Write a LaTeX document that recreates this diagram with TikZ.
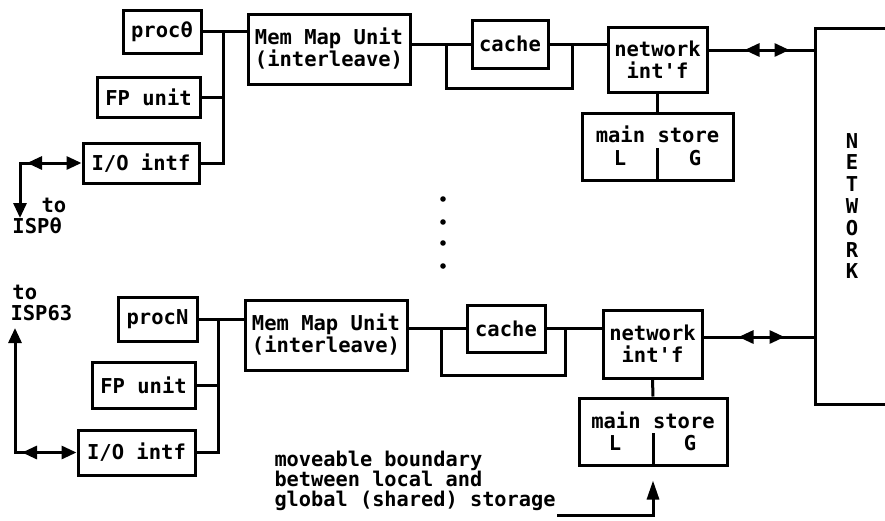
\documentclass[tikz,border=0pt]{standalone}
\usepackage{fontspec}
\setmonofont{DejaVu Sans Mono}
\usetikzlibrary{arrows.meta,decorations.markings,calc}
\newcommand\lptxt{\ttfamily\bfseries\fontsize{20.5}{22}\selectfont}
\newcommand\lpmv{\ttfamily\bfseries\fontsize{20.3}{20}\selectfont}
\newcommand\lpnet{\ttfamily\bfseries\fontsize{20.5}{21.8}\selectfont}
\tikzset{
  box/.style={draw, line width=3pt, inner sep=0pt, font=\lptxt, align=center},
  lbl/.style={inner sep=0pt, font=\lptxt},
  wire/.style={line width=3pt},
  midtips/.style 2 args={postaction={decorate}, decoration={markings,
      mark=at position #1 with {\arrowreversed{>}},
      mark=at position #2 with {\arrow{>}}}},
  backtip/.style={decorate, decoration={markings,
      mark=at position #1 with {\arrowreversed{>}}}},
}
\begin{document}
\begin{tikzpicture}[x=1pt,y=-1pt,line width=3pt,
  >={Triangle[length=15pt,width=13pt]}]
\useasboundingbox (0,0) rectangle (885,520);

% ---------- top processor row ----------
\node[box, minimum width=78pt,  minimum height=43pt] (p1) at (162,31.5) {procθ};
\node[box, minimum width=103pt, minimum height=40pt] (f1) at (148.5,97) {FP unit};
\node[box, minimum width=116pt, minimum height=40pt] (i1) at (141,163) {I/O intf};
\node[box, minimum width=162pt, minimum height=70pt] (m1) at (329,49) {Mem Map Unit\\(interleave)};
\node[box, minimum width=76pt,  minimum height=48pt] (k1) at (510,44) {cache};
\node[box, minimum width=99pt,  minimum height=65pt] (n1) at (657.5,59.5) {network\\int'f};
\node[box, minimum width=151pt, minimum height=67pt] (s1) at (657.5,146.5) {};
\node[lbl, anchor=base] (s1t) at (657.5,142) {main store};
\node[lbl, anchor=base] (s1l) at (620,165) {L};
\node[lbl, anchor=base] (s1g) at (695,165) {G};

\coordinate (bx1) at (223,0);
\coordinate (la1) at (446,0);
\coordinate (lb1) at (572,0);
\coordinate (ly1) at (0,88);
\coordinate (dv1) at (0,148);
\coordinate (t1) at (0,50);
\coordinate (c1) at (20,163);
\coordinate (d1) at (20,218);

\draw[wire] (p1.east) -- (p1.east -| m1.west);
\draw[wire] (i1.east) -- (i1.east -| bx1) -- (p1.east -| bx1);
\draw[wire] (f1.east) -- (f1.east -| bx1);
\draw[wire] (m1.east |- k1.west) -- (k1.west);
\draw[wire] (k1.west -| la1) -- (la1 |- ly1) -- (lb1 |- ly1) -- (lb1 |- k1.east);
\draw[wire] (k1.east) -- (k1.east -| n1.west);
\draw[wire] (n1.south) -- (s1.north);
\draw[wire] (s1.south) -- (s1.south |- dv1);

\draw[wire,<->] (i1.west) -- (c1) -- (d1);
\path[backtip=7pt] (c1) -- (i1.west);
\node[lbl, anchor=base west] (to1) at (40,212) {to};
\node[lbl, anchor=base west] (isp1) at (11,233) {ISPθ};

% ---------- network ----------
\node[minimum width=83pt, minimum height=373pt, inner sep=0pt] (net) at (858.5,216.5) {};
\draw[wire] (net.north east) -- (net.north west) -- (net.south west) -- (net.south east);
\node[lbl, font=\lpnet, align=center] (netw) at (852,206) {N\\E\\T\\W\\O\\R\\K};
\draw[wire, midtips={36pt}{81pt}] (n1.east |- t1) -- (net.west |- t1);

% ---------- dots ----------
\fill (443,199) circle (2.8);
\fill (443,222) circle (2.8);
\fill (443,243) circle (2.8);
\fill (443,266) circle (2.8);

% ---------- bottom processor row ----------
\node[box, minimum width=79pt,  minimum height=44pt] (p2) at (157.5,319) {procN};
\node[box, minimum width=103pt, minimum height=46pt] (f2) at (143.5,385) {FP unit};
\node[box, minimum width=117pt, minimum height=45pt] (i2) at (136.5,452.5) {I/O intf};
\node[box, minimum width=162pt, minimum height=70pt] (m2) at (326,335) {Mem Map Unit\\(interleave)};
\node[box, minimum width=78pt,  minimum height=47pt] (k2) at (506,328.5) {cache};
\node[box, minimum width=99pt,  minimum height=68pt] (n2) at (652.5,344) {network\\int'f};
\node[box, minimum width=148pt, minimum height=67pt] (s2) at (653,431.5) {};
\node[lbl, anchor=base] (s2t) at (653,428) {main store};
\node[lbl, anchor=base] (s2l) at (615,450) {L};
\node[lbl, anchor=base] (s2g) at (690,450) {G};

\coordinate (bx2) at (218,0);
\coordinate (la2) at (441,0);
\coordinate (lb2) at (565,0);
\coordinate (ly2) at (0,375);
\coordinate (dv2) at (0,433);
\coordinate (t2) at (0,337);
\coordinate (c2) at (15,452.5);
\coordinate (d2) at (15,328);

\draw[wire] (p2.east) -- (p2.east -| m2.west);
\draw[wire] (i2.east) -- (i2.east -| bx2) -- (p2.east -| bx2);
\draw[wire] (f2.east) -- (f2.east -| bx2);
\draw[wire] (m2.east |- k2.west) -- (k2.west);
\draw[wire] (k2.west -| la2) -- (la2 |- ly2) -- (lb2 |- ly2) -- (lb2 |- k2.east);
\draw[wire] (k2.east) -- (k2.east -| n2.west);
\draw[wire] (n2.south) -- (s2.north);
\draw[wire] (s2.south) -- (s2.south |- dv2);
\draw[wire, midtips={35pt}{81pt}] (n2.east |- t2) -- (net.west |- t2);

\draw[wire,<->] (i2.west) -- (c2) -- (d2);
\path[backtip=7pt] (c2) -- (i2.west);
\node[lbl, anchor=base west] (to2) at (11,299) {to};
\node[lbl, anchor=base west] (isp2) at (9,320) {ISP63};

% ---------- moveable boundary note ----------
\node[lbl, font=\lpmv, anchor=north west, align=left] (mv) at (273,449.5)
  {moveable boundary\\between local and\\global (shared) storage};
\coordinate (sa) at (557,515);
\draw[wire, -{Triangle[length=19pt,width=12pt]}] (sa) -- (sa -| s2.south) -- ($(s2.south)+(0,14)$);
\end{tikzpicture}
\end{document}
